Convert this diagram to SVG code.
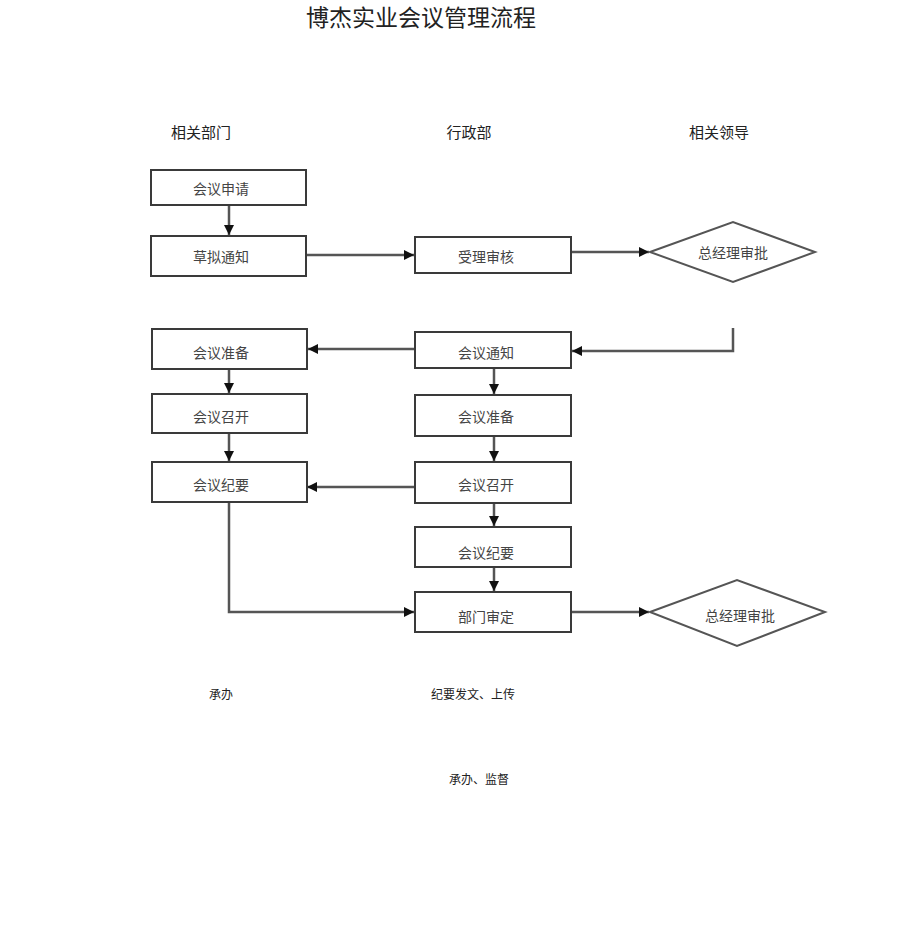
<svg xmlns="http://www.w3.org/2000/svg" width="920" height="948" viewBox="0 0 920 948">
<style>
.box{fill:#fff;stroke:#3a3a3a;stroke-width:2}
.dia{fill:#fff;stroke:#555;stroke-width:2}
.t{font-family:"Noto Sans CJK SC","Liberation Sans",sans-serif;font-size:14px;fill:#444;text-anchor:middle;dominant-baseline:central}
.h{font-family:"Noto Sans CJK SC","Liberation Sans",sans-serif;font-size:15px;fill:#222;text-anchor:middle;dominant-baseline:central}
.s{font-family:"Noto Sans CJK SC","Liberation Sans",sans-serif;font-size:12px;fill:#222;text-anchor:middle;dominant-baseline:central}
.c{fill:none;stroke:#555;stroke-width:2.5}
</style>
<defs>
<marker id="ah" viewBox="0 0 10 10" refX="10" refY="5" markerWidth="4" markerHeight="4" orient="auto" markerUnits="strokeWidth">
<path d="M0,0 L10,5 L0,10 z" fill="#111"/>
</marker>
</defs>
<text x="421" y="16" style="font-family:'Noto Sans CJK SC','Liberation Sans',sans-serif;font-size:23px;fill:#222;text-anchor:middle;dominant-baseline:central">博杰实业会议管理流程</text>
<g id="headers">
<text class="h" x="201" y="131">相关部门</text>
<text class="h" x="469" y="131">行政部</text>
<text class="h" x="719" y="131">相关领导</text>
</g>
<g id="connectors">
<path class="c" d="M229,205 V235" marker-end="url(#ah)"/>
<path class="c" d="M307,255 H414" marker-end="url(#ah)"/>
<path class="c" d="M572,252 H649" marker-end="url(#ah)"/>
<path class="c" d="M733,328 V351 H572" marker-end="url(#ah)"/>
<path class="c" d="M414,349 H308" marker-end="url(#ah)"/>
<path class="c" d="M229,369 V393" marker-end="url(#ah)"/>
<path class="c" d="M229,433 V461" marker-end="url(#ah)"/>
<path class="c" d="M494,368 V394" marker-end="url(#ah)"/>
<path class="c" d="M494,436 V461" marker-end="url(#ah)"/>
<path class="c" d="M414,487 H307" marker-end="url(#ah)"/>
<path class="c" d="M494,503 V526" marker-end="url(#ah)"/>
<path class="c" d="M494,567 V591" marker-end="url(#ah)"/>
<path class="c" d="M229,502 V612 H414" marker-end="url(#ah)"/>
<path class="c" d="M572,612 H649" marker-end="url(#ah)"/>
</g>
<g id="n1"><rect class="box" x="151" y="170" width="155" height="35"/><text class="t" x="221" y="188">会议申请</text></g>
<g id="n2"><rect class="box" x="151" y="236" width="155" height="40"/><text class="t" x="221" y="256">草拟通知</text></g>
<g id="n3"><rect class="box" x="415" y="237" width="156" height="36"/><text class="t" x="486" y="256">受理审核</text></g>
<g id="n4"><polygon class="dia" points="650,252 733,222 815,252 733,282"/><text class="t" x="733" y="252">总经理审批</text></g>
<g id="n5"><rect class="box" x="152" y="329" width="155" height="40"/><text class="t" x="221" y="352">会议准备</text></g>
<g id="n6"><rect class="box" x="415" y="332" width="156" height="36"/><text class="t" x="486" y="352">会议通知</text></g>
<g id="n7"><rect class="box" x="152" y="394" width="155" height="39"/><text class="t" x="221" y="416">会议召开</text></g>
<g id="n8"><rect class="box" x="415" y="395" width="156" height="41"/><text class="t" x="486" y="416">会议准备</text></g>
<g id="n9"><rect class="box" x="152" y="462" width="155" height="40"/><text class="t" x="221" y="484">会议纪要</text></g>
<g id="n10"><rect class="box" x="415" y="462" width="156" height="41"/><text class="t" x="486" y="484">会议召开</text></g>
<g id="n11"><rect class="box" x="415" y="527" width="156" height="40"/><text class="t" x="486" y="552">会议纪要</text></g>
<g id="n12"><rect class="box" x="415" y="592" width="156" height="40"/><text class="t" x="486" y="616">部门审定</text></g>
<g id="n13"><polygon class="dia" points="650,612 737,580 825,612 737,646"/><text class="t" x="740" y="615">总经理审批</text></g>
<g id="notes">
<text class="s" x="221" y="693">承办</text>
<text class="s" x="473" y="693">纪要发文、上传</text>
<text class="s" x="479" y="778">承办、监督</text>
</g>
</svg>
